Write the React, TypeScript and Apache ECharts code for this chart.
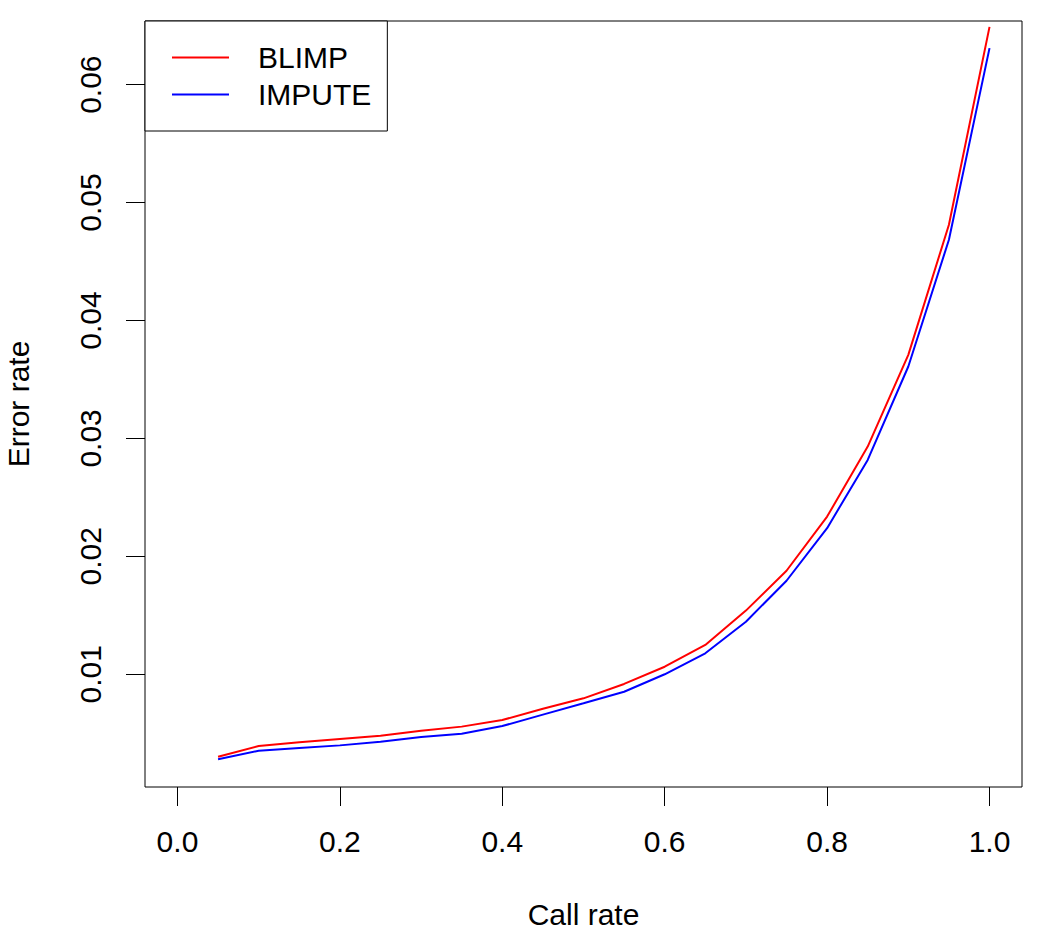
import React, { useEffect, useRef } from "react";
import * as echarts from "echarts";

const callRate = [0.05, 0.1, 0.15, 0.2, 0.25, 0.3, 0.35, 0.4, 0.45, 0.5, 0.55, 0.6, 0.65, 0.7, 0.75, 0.8, 0.85, 0.9, 0.95, 1.0];
const blimp = [0.00301, 0.00392, 0.00423, 0.00451, 0.00479, 0.00521, 0.00556, 0.00612, 0.00708, 0.00796, 0.00918, 0.01064, 0.01249, 0.0154, 0.01878, 0.02337, 0.02931, 0.03709, 0.04812, 0.0649];
const impute = [0.00279, 0.00352, 0.00375, 0.00397, 0.00428, 0.00468, 0.00496, 0.00561, 0.00658, 0.00754, 0.00852, 0.0100, 0.01178, 0.01446, 0.01793, 0.02239, 0.02818, 0.0361, 0.04685, 0.0631];
const xTicks = [0, 0.2, 0.4, 0.6, 0.8, 1.0];
const yTicks = [0.01, 0.02, 0.03, 0.04, 0.05, 0.06];

const FONT = "Liberation Sans, Arial, sans-serif";

export default function App() {
  const ref = useRef<HTMLDivElement>(null);
  useEffect(() => {
    if (!ref.current) return;
    const chart = echarts.init(ref.current, undefined, { renderer: "svg" });
    chart.setOption({
      animation: false,
      backgroundColor: "#fff",
      textStyle: { fontFamily: FONT },
      grid: {
        left: 145,
        top: 21,
        right: 28,
        bottom: 160,
        containLabel: false,
        outerBoundsMode: "none",
        show: true,
        borderColor: "#000",
        borderWidth: 1,
        backgroundColor: "transparent",
      },
      legend: {
        orient: "vertical",
        left: 145,
        top: 21,
        backgroundColor: "#fff",
        borderColor: "#000",
        borderWidth: 1,
        borderRadius: 0,
        padding: [18, 16, 18, 27],
        itemGap: 0,
        itemWidth: 57,
        itemHeight: 2,
        icon: "rect",
        textStyle: {
          fontFamily: FONT,
          fontSize: 30,
          color: "#000",
          lineHeight: 37,
          padding: [0, 0, 0, 24],
        },
        data: [
          { name: "BLIMP", itemStyle: { color: "#ff0000" } },
          { name: "IMPUTE", itemStyle: { color: "#0000ff" } },
        ],
      },
      xAxis: {
        type: "value",
        min: -0.04,
        max: 1.04,
        name: "Call rate",
        nameLocation: "middle",
        nameGap: 112,
        nameTextStyle: { fontFamily: FONT, fontSize: 30, color: "#000" },
        axisLine: { show: false, onZero: false },
        splitLine: { show: false },
        axisTick: {
          show: true,
          inside: false,
          length: 19,
          lineStyle: { color: "#000", width: 1 },
          customValues: xTicks,
        },
        axisLabel: {
          fontFamily: FONT,
          fontSize: 30,
          color: "#000",
          margin: 39,
          customValues: xTicks,
          formatter: (v: number) => v.toFixed(1),
        },
      },
      yAxis: {
        type: "value",
        min: 0.00044,
        max: 0.0654,
        name: "Error rate",
        nameLocation: "middle",
        nameGap: 112,
        nameRotate: 90,
        nameTextStyle: { fontFamily: FONT, fontSize: 30, color: "#000" },
        axisLine: { show: false, onZero: false },
        splitLine: { show: false },
        axisTick: {
          show: true,
          inside: false,
          length: 19,
          lineStyle: { color: "#000", width: 1 },
          customValues: yTicks,
        },
        axisLabel: {
          fontFamily: FONT,
          fontSize: 30,
          color: "#000",
          rotate: 90,
          margin: 40,
          customValues: yTicks,
          formatter: (v: number) => v.toFixed(2),
        },
      },
      series: [
        {
          name: "BLIMP",
          type: "line",
          data: callRate.map((x, i) => [x, blimp[i]]),
          showSymbol: false,
          symbol: "none",
          lineStyle: { color: "#ff0000", width: 2 },
          itemStyle: { color: "#ff0000" },
          z: 3,
        },
        {
          name: "IMPUTE",
          type: "line",
          data: callRate.map((x, i) => [x, impute[i]]),
          showSymbol: false,
          symbol: "none",
          lineStyle: { color: "#0000ff", width: 2 },
          itemStyle: { color: "#0000ff" },
          z: 3,
        },
      ],
    });
    return () => chart.dispose();
  }, []);
  return (
    <div
      ref={ref}
      style={{ position: "fixed", left: 0, top: 0, width: 1050, height: 947, background: "#fff" }}
    />
  );
}
